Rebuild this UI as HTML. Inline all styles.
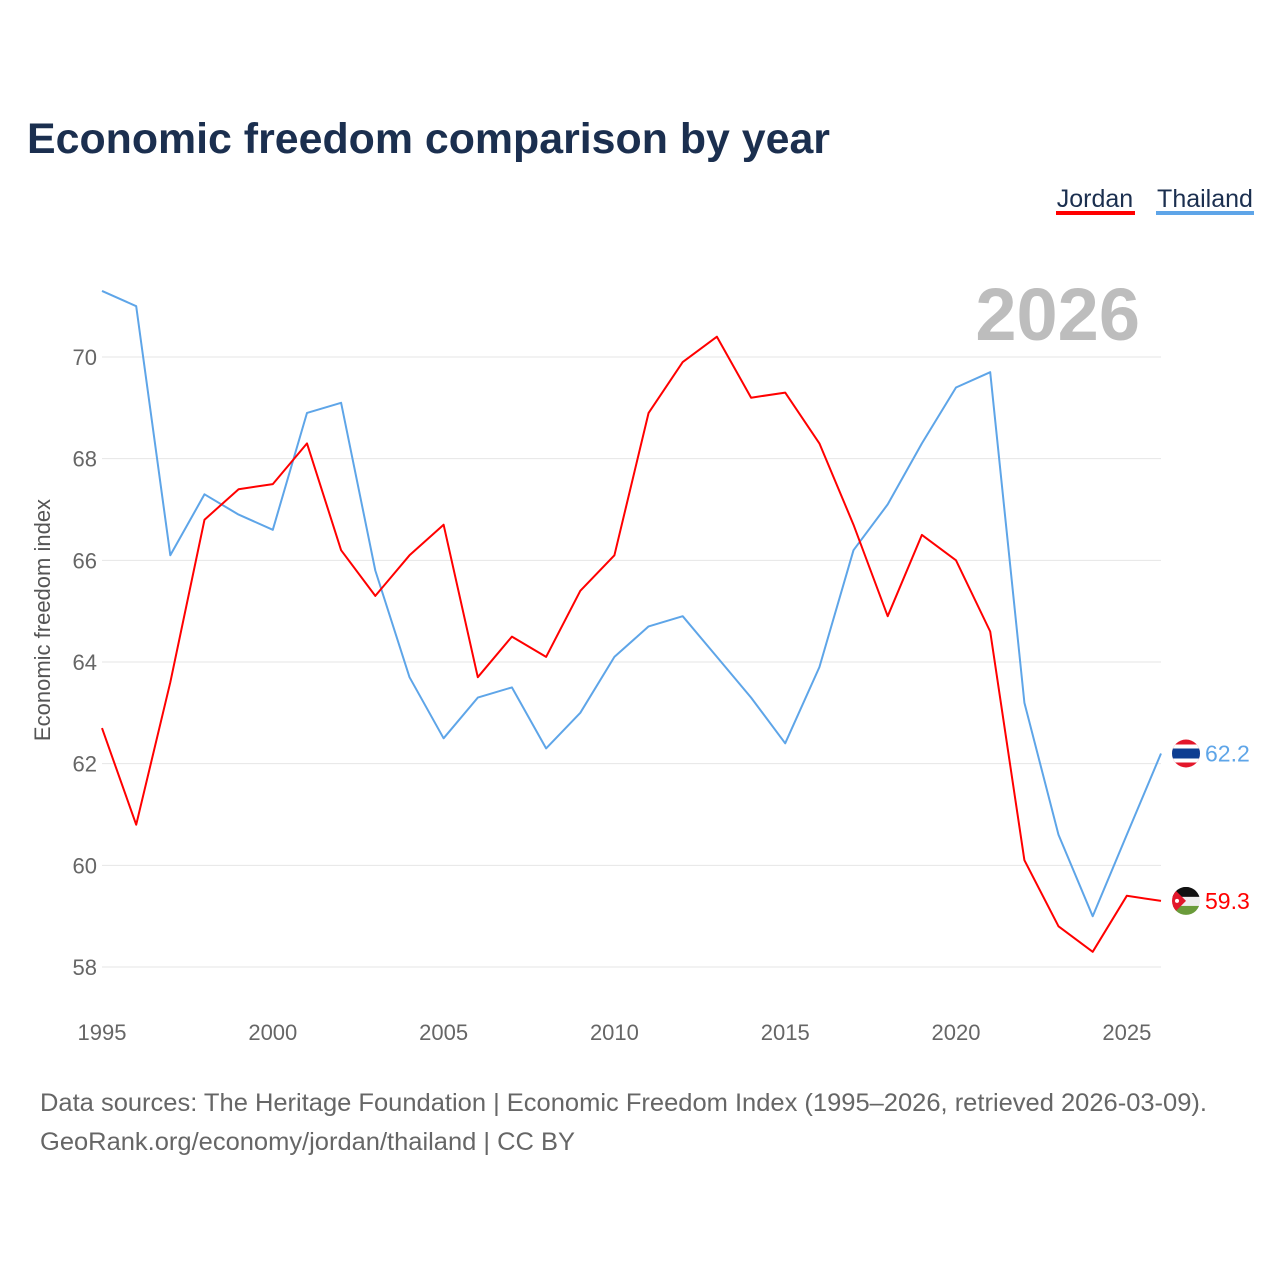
<!DOCTYPE html>
<html><head><meta charset="utf-8">
<style>
body{margin:0;background:#fff;}
svg{display:block;font-family:"Liberation Sans",sans-serif;}
</style></head>
<body>
<svg id="chart" width="1280" height="1280" viewBox="0 0 1280 1280">
<text x="27" y="153" font-size="43" font-weight="bold" fill="#1b2f4f" textLength="803" lengthAdjust="spacingAndGlyphs">Economic freedom comparison by year</text>
<g>
<text x="1095" y="207" font-size="25" fill="#1b2f4f" text-anchor="middle">Jordan</text>
<rect x="1056" y="211" width="79" height="4" fill="#ff0000"/>
<text x="1205" y="207" font-size="25" fill="#1b2f4f" text-anchor="middle">Thailand</text>
<rect x="1156" y="211" width="98" height="4" fill="#5ea5e8"/>
</g>
<text x="1140" y="340" font-size="74" font-weight="bold" fill="#bdbdbd" text-anchor="end">2026</text>
<g id="grid"></g><g id="yticks"></g><g id="xticks"></g>
<text transform="translate(50,620) rotate(-90)" font-size="22" fill="#555" text-anchor="middle">Economic freedom index</text>
<g id="series"></g>
<text x="40" y="1111" font-size="25" fill="#666" textLength="1167" lengthAdjust="spacingAndGlyphs">Data sources: The Heritage Foundation | Economic Freedom Index (1995–2026, retrieved 2026-03-09).</text>
<text x="40" y="1150" font-size="25" fill="#666" textLength="535" lengthAdjust="spacingAndGlyphs">GeoRank.org/economy/jordan/thailand | CC BY</text>
</svg>
<script>
const years=[1995,1996,1997,1998,1999,2000,2001,2002,2003,2004,2005,2006,2007,2008,2009,2010,2011,2012,2013,2014,2015,2016,2017,2018,2019,2020,2021,2022,2023,2024,2025,2026];
const jordan=[62.7,60.8,63.6,66.8,67.4,67.5,68.3,66.2,65.3,66.1,66.7,63.7,64.5,64.1,65.4,66.1,68.9,69.9,70.4,69.2,69.3,68.3,66.7,64.9,66.5,66.0,64.6,60.1,58.8,58.3,59.4,59.3];
const thailand=[71.3,71.0,66.1,67.3,66.9,66.6,68.9,69.1,65.8,63.7,62.5,63.3,63.5,62.3,63.0,64.1,64.7,64.9,64.1,63.3,62.4,63.9,66.2,67.1,68.3,69.4,69.7,63.2,60.6,59.0,60.6,62.2];
const yTicks=[58,60,62,64,66,68,70];
const xTicks=[1995,2000,2005,2010,2015,2020,2025];
const NS="http://www.w3.org/2000/svg";
const X=v=>102+(v-1995)*(1161-102)/31;
const Y=v=>967-(v-58)*(967-357)/12;
function mk(t,a,p){const e=document.createElementNS(NS,t);for(const k in a)e.setAttribute(k,a[k]);p.appendChild(e);return e;}
const grid=document.getElementById('grid'),yt=document.getElementById('yticks'),xt=document.getElementById('xticks'),ser=document.getElementById('series');
yTicks.forEach(v=>{
 const l=mk('line',{x1:102,x2:1161,y1:Y(v),y2:Y(v),stroke:'#e6e6e6','stroke-width':1},grid);
 
 
 const t=mk('text',{x:97,y:Y(v)+8,'font-size':22,fill:'#666','text-anchor':'end'},yt);t.textContent=v;
 
 
});
xTicks.forEach(v=>{
 const t=mk('text',{x:X(v),y:1040,'font-size':22,fill:'#666','text-anchor':'middle'},xt);t.textContent=v;
 
 
});
function line(vals,col,name){
 const p=mk('path',{d:vals.map((v,i)=>(i?'L':'M')+X(years[i]).toFixed(1)+','+Y(v).toFixed(1)).join(''),fill:'none',stroke:col,'stroke-width':2,'stroke-linejoin':'round'},ser);
 
 
}
line(thailand,'#5ea5e8','thailand');
line(jordan,'#ff0000','jordan');
function flagT(y){
 const g=mk('g',{},ser);
 
 
 mk('clipPath',{id:'ct'},g);
 const c=document.getElementById('ct');mk('circle',{cx:1186,cy:y,r:14},c);
 const gg=mk('g',{'clip-path':'url(#ct)'},g);
 mk('rect',{x:1172,y:y-14,width:28,height:28,fill:'#e3172b'},gg);
 mk('rect',{x:1172,y:y-9,width:28,height:18,fill:'#fff'},gg);
 mk('rect',{x:1172,y:y-5,width:28,height:10,fill:'#0d3d91'},gg);
}
function flagJ(y){
 const g=mk('g',{},ser);
 
 
 mk('clipPath',{id:'cj'},g);
 const c=document.getElementById('cj');mk('circle',{cx:1186,cy:y,r:14},c);
 const gg=mk('g',{'clip-path':'url(#cj)'},g);
 mk('rect',{x:1172,y:y-14,width:28,height:10,fill:'#111'},gg);
 mk('rect',{x:1172,y:y-4,width:28,height:9,fill:'#eee'},gg);
 mk('rect',{x:1172,y:y+5,width:28,height:10,fill:'#6a9b3a'},gg);
 mk('path',{d:`M1172,${y-14}L1186,${y}L1172,${y+14}Z`,fill:'#e3172b'},gg);
 mk('circle',{cx:1177,cy:y,r:2,fill:'#fff'},gg);
}
const lt=thailand[thailand.length-1],lj=jordan[jordan.length-1];
flagT(Y(lt));flagJ(Y(lj));
const vt=mk('text',{x:1205,y:Y(lt)+8,'font-size':23,fill:'#5ea5e8'},ser);vt.textContent=lt.toFixed(1);


const vj=mk('text',{x:1205,y:Y(lj)+8,'font-size':23,fill:'#ff0000'},ser);vj.textContent=lj.toFixed(1);


</script>
</body></html>
